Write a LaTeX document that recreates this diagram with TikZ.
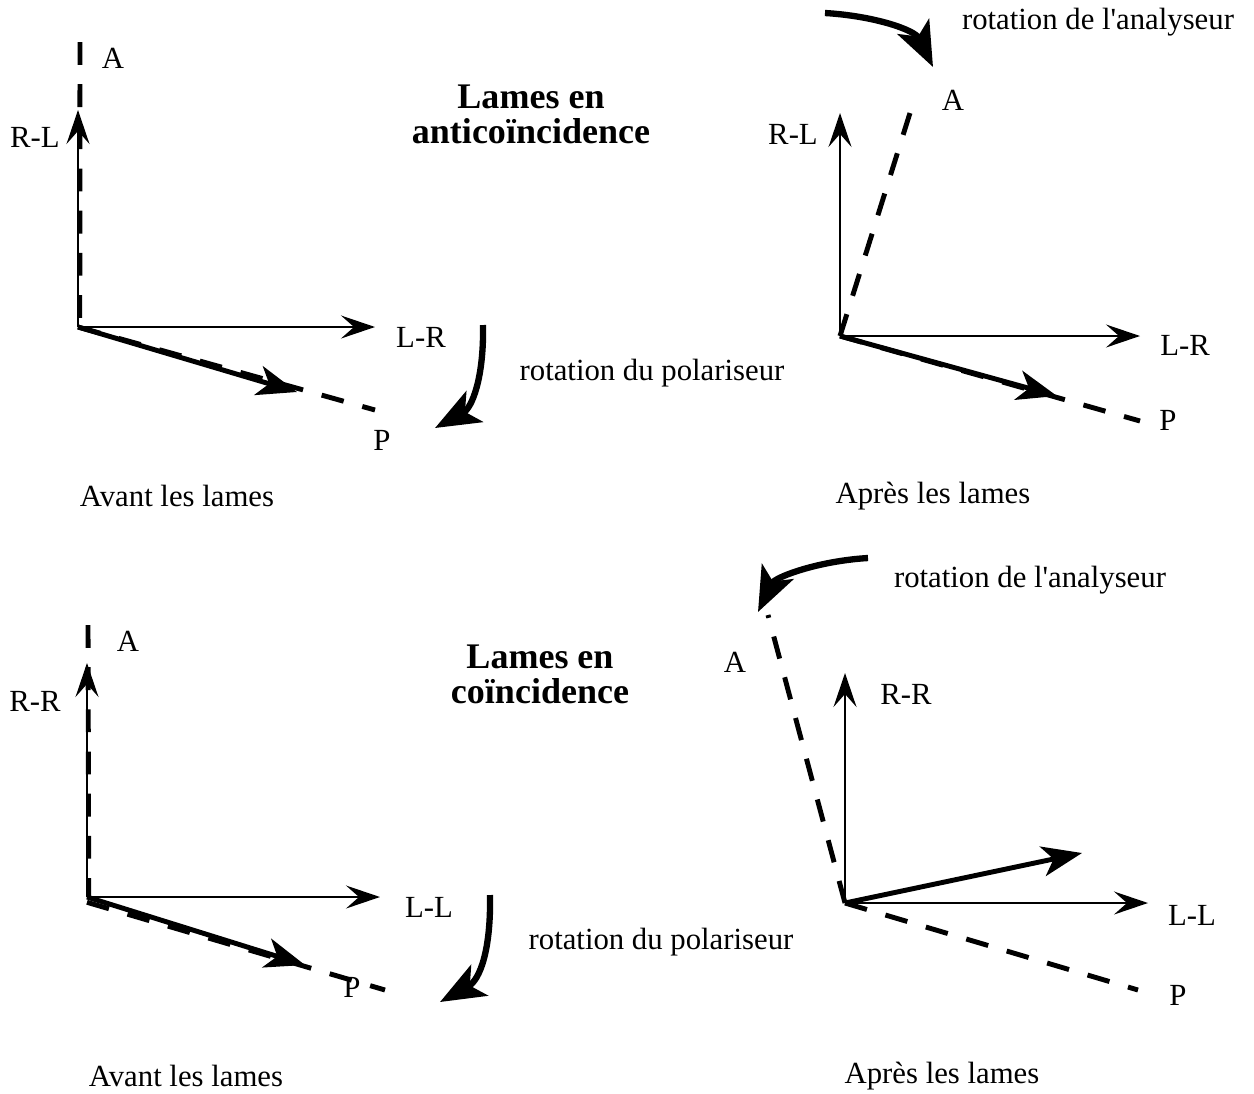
\documentclass[tikz,border=0pt]{standalone}
\usepackage{fontspec}
\setmainfont{Liberation Serif}
\usetikzlibrary{arrows.meta}
\newcommand{\apos}{\XeTeXglyph\XeTeXcharglyph"27\relax}

\begin{document}
\begin{tikzpicture}[x=0.02cm, y=-0.02cm,
    lbl/.style={font=\fontsize{17.5}{21}\selectfont, inner sep=0pt},
    titre/.style={font=\fontsize{20.5}{20}\selectfont\bfseries, align=center, inner sep=0pt},
    axe/.style={-{Stealth[length=0.68cm, width=0.46cm, inset=0.26cm]}, line width=1.1pt},
    pol/.style={-{Stealth[length=0.8cm, width=0.6cm, inset=0.22cm]}, line width=2.8pt},
    tiret/.style={line width=2.8pt, dash pattern=on 13pt off 11pt},
    rot/.style={-{Stealth[length=0.9cm, width=0.7cm, inset=0.22cm]}, line width=3.6pt}]
    \useasboundingbox (0,0) rectangle (1254,1093);

    % --- avant les lames, anticoincidence
    \coordinate (O1) at (78,327);
    \coordinate (Y1) at (78,110);
    \coordinate (X1) at (375,327);
    \coordinate (P1) at (297,392);
    \coordinate (Pe1) at (375,410);
    \coordinate (A1) at (80,42);
    \draw[tiret] (A1) -- ([xshift=1pt]O1);
    \draw[tiret] (O1) -- (Pe1);
    \draw[axe] (O1) -- (Y1);
    \draw[axe] (O1) -- (X1);
    \draw[pol] (O1) -- (P1);
    \node[lbl] (a1) at (113,58) {A};
    \node[lbl] (rl1) at (35,137) {R-L};
    \node[lbl] (lr1) at (421,337) {L-R};
    \node[lbl] (p1) at (382,440) {P};
    \coordinate (r1s) at (483,325);
    \coordinate (r1e) at (435,428);
    \draw[rot] (r1s) .. controls (484,378) and (472,408) .. (r1e);
    \node[lbl] (rp1) at (652,373) {rotation du polariseur};
    \node[lbl] (av1) at (177,496) {Avant les lames};
    \node[titre] (t1) at (531,114) {Lames en\\anticoïncidence};

    % --- apres les lames, anticoincidence
    \coordinate (O2) at (840,336);
    \coordinate (Y2) at (840,113);
    \coordinate (X2) at (1140,336);
    \coordinate (P2) at (1057,396);
    \coordinate (Pe2) at (1140,421);
    \coordinate (A2) at (915,97);
    \draw[tiret] (O2) -- (A2);
    \draw[tiret] (O2) -- (Pe2);
    \draw[axe] (O2) -- (Y2);
    \draw[axe] (O2) -- (X2);
    \draw[pol] (O2) -- (P2);
    \node[lbl] (a2) at (953,100) {A};
    \node[lbl] (rl2) at (793,134) {R-L};
    \node[lbl] (lr2) at (1185,345) {L-R};
    \node[lbl] (p2) at (1168,420) {P};
    \coordinate (r2s) at (825,13);
    \coordinate (r2e) at (933,67);
    \draw[rot] (r2s) .. controls (875,16) and (915,30) .. (r2e);
    \node[lbl] (ra2) at (1098,22) {rotation de l\apos analyseur};
    \node[lbl] (ap2) at (933,496) {Après les lames};

    % --- avant les lames, coincidence
    \coordinate (O3) at (87,897);
    \coordinate (Y3) at (87,663);
    \coordinate (X3) at (380,897);
    \coordinate (P3) at (305,965);
    \coordinate (Pe3) at (385,990);
    \coordinate (A3) at (88,625);
    \draw[tiret] (A3) -- ([xshift=1pt]O3);
    \draw[tiret] ([yshift=-3pt]O3) -- (Pe3);
    \draw[axe] (O3) -- (Y3);
    \draw[axe] (O3) -- (X3);
    \draw[pol] (O3) -- (P3);
    \node[lbl] (a3) at (128,641) {A};
    \node[lbl] (rr3) at (35,701) {R-R};
    \node[lbl] (ll3) at (429,907) {L-L};
    \node[lbl] (p3) at (352,987) {P};
    \coordinate (r3s) at (490,895);
    \coordinate (r3e) at (440,1002);
    \draw[rot] (r3s) .. controls (491,950) and (480,980) .. (r3e);
    \node[lbl] (rp3) at (661,942) {rotation du polariseur};
    \node[lbl] (av3) at (186,1076) {Avant les lames};
    \node[titre] (t3) at (540,674) {Lames en\\coïncidence};

    % --- apres les lames, coincidence
    \coordinate (O4) at (845,903);
    \coordinate (Y4) at (845,673);
    \coordinate (X4) at (1148,903);
    \coordinate (V4) at (1082,853);
    \coordinate (Pe4) at (1138,990);
    \coordinate (A4) at (768,615);
    \draw[tiret] (O4) -- (A4);
    \draw[tiret] (O4) -- (Pe4);
    \draw[axe] (O4) -- (Y4);
    \draw[axe] (O4) -- (X4);
    \draw[pol] (O4) -- (V4);
    \node[lbl] (a4) at (735,662) {A};
    \node[lbl] (rr4) at (906,694) {R-R};
    \node[lbl] (ll4) at (1192,915) {L-L};
    \node[lbl] (p4) at (1178,995) {P};
    \coordinate (r4s) at (868,558);
    \coordinate (r4e) at (758,612);
    \draw[rot] (r4s) .. controls (818,561) and (775,577) .. (r4e);
    \node[lbl] (ra4) at (1030,580) {rotation de l\apos analyseur};
    \node[lbl] (ap4) at (942,1076) {Après les lames};
  \end{tikzpicture}
\end{document}
